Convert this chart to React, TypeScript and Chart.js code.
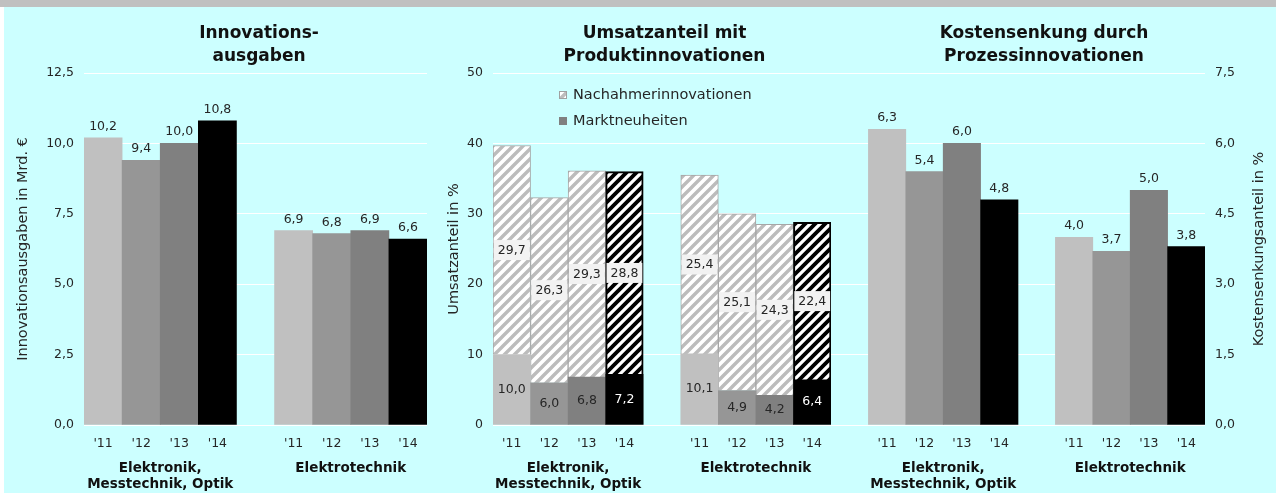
import React, { useEffect, useRef } from 'react';
import { Chart, registerables } from 'chart.js';

Chart.register(...registerables);

const FONT = '"DejaVu Sans", Verdana, sans-serif';

// ---------- data ----------
const years = ["'11", "'12", "'13", "'14"];
const groupElektronik = ['Elektronik,', 'Messtechnik, Optik'];
const groupElektrotechnik = ['Elektrotechnik'];

const titleAusgaben = ['Innovations-', 'ausgaben'];
const titleUmsatz = ['Umsatzanteil mit', 'Produktinnovationen'];
const titleKosten = ['Kostensenkung durch', 'Prozessinnovationen'];

const axisAusgaben = 'Innovationsausgaben in Mrd. €';
const axisUmsatz = 'Umsatzanteil in %';
const axisKosten = 'Kostensenkungsanteil in %';

const legendLabels = ['Nachahmerinnovationen', 'Marktneuheiten'];

const ausgabenEMO = [10.2, 9.4, 10.0, 10.8];
const ausgabenET = [6.9, 6.8, 6.9, 6.6];
const marktEMO = [10.0, 6.0, 6.8, 7.2];
const marktET = [10.1, 4.9, 4.2, 6.4];
const nachEMO = [29.7, 26.3, 29.3, 28.8];
const nachET = [25.4, 25.1, 24.3, 22.4];
const kostenEMO = [6.3, 5.4, 6.0, 4.8];
const kostenET = [4.0, 3.7, 5.0, 3.8];

const ticksAusgaben = [0, 2.5, 5, 7.5, 10, 12.5];
const ticksUmsatz = [0, 10, 20, 30, 40, 50];
const ticksKosten = [0, 1.5, 3, 4.5, 6, 7.5];

// ---------- styles ----------
const yearColors = ['#c0c0c0', '#969696', '#808080', '#000000'];
const TEXT = '#262626';
const fmt1 = (v: number) => v.toFixed(1).replace('.', ',');

const CH = 486; // canvas height (page y 7..493)
const AREA_TOP = 66;
const AREA_BOTTOM = 418;

function makeStripe(target: CanvasRenderingContext2D, color: string, lw: number): CanvasPattern | string {
  const S = 10;
  const tile = document.createElement('canvas');
  tile.width = S;
  tile.height = S;
  const g = tile.getContext('2d');
  if (!g) return color;
  g.fillStyle = '#ffffff';
  g.fillRect(0, 0, S, S);
  g.strokeStyle = color;
  g.lineWidth = lw;
  g.lineCap = 'square';
  g.beginPath();
  g.moveTo(-2, S + 2);
  g.lineTo(S + 2, -2);
  g.moveTo(-2, 2);
  g.lineTo(2, -2);
  g.moveTo(S - 2, S + 2);
  g.lineTo(S + 2, S - 2);
  g.stroke();
  return target.createPattern(tile, 'repeat') || color;
}

type Group = { lines: string[]; from: number; to: number };
type Decor = {
  title: string[];
  titleDx: number;
  axisTitle: string;
  axisX: number;
  groups: Group[];
  legend?: { light: CanvasPattern | string };
};

function decorPlugin(cfg: Decor) {
  return {
    id: 'decor',
    afterDraw(chart: any) {
      const { ctx, chartArea: ca } = chart;
      const xs = chart.scales.x;
      ctx.save();
      ctx.textAlign = 'center';
      ctx.textBaseline = 'alphabetic';
      ctx.fillStyle = '#111111';
      ctx.font = `bold 17px ${FONT}`;
      cfg.title.forEach((t, i) => ctx.fillText(t, ca.left + cfg.titleDx, 30.5 + 23 * i));
      ctx.font = `bold 13.5px ${FONT}`;
      cfg.groups.forEach((g) => {
        const cx = (xs.getPixelForValue(g.from) + xs.getPixelForValue(g.to)) / 2;
        g.lines.forEach((t, i) => ctx.fillText(t, cx, 464.7 + 16 * i));
      });
      if (cfg.legend) {
        const lx = ca.left + 66;
        const ly = ca.top + 18;
        ctx.fillStyle = cfg.legend.light;
        ctx.fillRect(lx, ly, 8, 8);
        ctx.strokeStyle = '#a0a0a0';
        ctx.lineWidth = 1;
        ctx.strokeRect(lx + 0.5, ly + 0.5, 7, 7);
        ctx.fillStyle = '#808080';
        ctx.fillRect(lx, ly + 26, 8, 8);
        ctx.fillStyle = TEXT;
        ctx.font = `14.5px ${FONT}`;
        ctx.textAlign = 'left';
        ctx.textBaseline = 'middle';
        ctx.fillText(legendLabels[0], lx + 14, ly + 4);
        ctx.fillText(legendLabels[1], lx + 14, ly + 30);
      }
      ctx.fillStyle = TEXT;
      ctx.font = `14.5px ${FONT}`;
      ctx.textAlign = 'center';
      ctx.textBaseline = 'alphabetic';
      ctx.translate(cfg.axisX, (ca.top + ca.bottom) / 2);
      ctx.rotate(-Math.PI / 2);
      ctx.fillText(cfg.axisTitle, 0, 0);
      ctx.restore();
    },
  };
}

const aboveLabels = {
  id: 'aboveLabels',
  afterDatasetsDraw(chart: any) {
    const { ctx } = chart;
    const ds = chart.data.datasets[0];
    const meta = chart.getDatasetMeta(0);
    ctx.save();
    ctx.fillStyle = TEXT;
    ctx.font = `12.5px ${FONT}`;
    ctx.textAlign = 'center';
    ctx.textBaseline = 'alphabetic';
    meta.data.forEach((el: any, i: number) => {
      const v = ds.data[i];
      if (v == null) return;
      ctx.fillText(fmt1(v), el.x, el.y - 8);
    });
    ctx.restore();
  },
};

const stackLabels = {
  id: 'stackLabels',
  afterDatasetsDraw(chart: any) {
    const { ctx } = chart;
    ctx.save();
    ctx.font = `12.5px ${FONT}`;
    ctx.textAlign = 'center';
    ctx.textBaseline = 'middle';
    const d0 = chart.data.datasets[0];
    chart.getDatasetMeta(0).data.forEach((el: any, i: number) => {
      const v = d0.data[i];
      if (v == null) return;
      const y = (el.y + el.base) / 2;
      ctx.fillStyle = i % 5 === 3 ? '#ffffff' : TEXT;
      ctx.fillText(fmt1(v), el.x, y);
    });
    const d1 = chart.data.datasets[1];
    chart.getDatasetMeta(1).data.forEach((el: any, i: number) => {
      const v = d1.data[i];
      if (v == null) return;
      const y = (el.y + el.base) / 2;
      const t = fmt1(v);
      const w = ctx.measureText(t).width + 8;
      ctx.fillStyle = '#f2f2f2';
      ctx.fillRect(el.x - w / 2, y - 10, w, 20);
      ctx.fillStyle = TEXT;
      ctx.fillText(t, el.x, y + 0.5);
    });
    ctx.restore();
  },
};

type PanelSpec = {
  W: number;
  areaLeft: number;
  areaRight: number;
  yPos: 'left' | 'right';
  ticks: number[];
  tickFmt: (v: number) => string;
  stacked: boolean;
};

function makeOptions(p: PanelSpec) {
  const yW = p.yPos === 'left' ? p.areaLeft : p.W - p.areaRight;
  return {
    responsive: false,
    animation: false,
    events: [],
    layout: {
      padding: {
        top: AREA_TOP,
        bottom: 0,
        left: p.yPos === 'left' ? 0 : p.areaLeft,
        right: p.yPos === 'left' ? p.W - p.areaRight : 0,
      },
    },
    plugins: {
      legend: { display: false },
      tooltip: { enabled: false },
      title: { display: false },
    },
    scales: {
      x: {
        stacked: p.stacked,
        offset: true,
        grid: { display: false, drawTicks: false },
        border: { display: false },
        ticks: {
          padding: 11,
          color: TEXT,
          font: { size: 12.5, family: FONT },
          maxRotation: 0,
          autoSkip: false,
        },
        afterFit: (s: any) => {
          s.height = CH - AREA_BOTTOM;
        },
      },
      y: {
        position: p.yPos,
        stacked: p.stacked,
        min: p.ticks[0],
        max: p.ticks[p.ticks.length - 1],
        grid: { color: '#ffffff', lineWidth: 1, drawTicks: false },
        border: { display: false },
        ticks: {
          padding: 10,
          color: TEXT,
          font: { size: 12.5, family: FONT },
          callback: (v: any) => p.tickFmt(Number(v)),
        },
        afterBuildTicks: (s: any) => {
          s.ticks = p.ticks.map((v) => ({ value: v }));
        },
        afterFit: (s: any) => {
          s.width = yW;
        },
      },
    },
  };
}

export default function App() {
  const leftRef = useRef<HTMLCanvasElement>(null);
  const midRef = useRef<HTMLCanvasElement>(null);
  const rightRef = useRef<HTMLCanvasElement>(null);

  useEffect(() => {
    Chart.defaults.font.family = FONT;
    const charts: Chart[] = [];
    const lc = leftRef.current;
    const mc = midRef.current;
    const rc = rightRef.current;
    if (!lc || !mc || !rc) return;

    charts.push(
      new Chart(lc, {
        type: 'bar',
        data: {
          labels: [...years, '', ...years],
          datasets: [
            {
              data: [...ausgabenEMO, null, ...ausgabenET],
              backgroundColor: [...yearColors, 'transparent', ...yearColors],
              borderWidth: 0,
              barPercentage: 1,
              categoryPercentage: 1,
            },
          ],
        },
        options: makeOptions({
          W: 426,
          areaLeft: 80,
          areaRight: 423,
          yPos: 'left',
          ticks: ticksAusgaben,
          tickFmt: fmt1,
          stacked: false,
        }) as any,
        plugins: [
          aboveLabels,
          decorPlugin({
            title: titleAusgaben,
            titleDx: 175,
            axisTitle: axisAusgaben,
            axisX: 23,
            groups: [
              { lines: groupElektronik, from: 0, to: 3 },
              { lines: groupElektrotechnik, from: 5, to: 8 },
            ],
          }),
        ],
      })
    );

    const mctx = mc.getContext('2d') as CanvasRenderingContext2D;
    const pLight = makeStripe(mctx, '#bcbcbc', 3.4);
    const pDark = makeStripe(mctx, '#000000', 3.8);
    const nachFill = [pLight, pLight, pLight, pDark];
    const nachBorder = ['#a6a6a6', '#a6a6a6', '#a6a6a6', '#000000'];
    const nachBw = [1, 1, 1, 2];
    charts.push(
      new Chart(mc, {
        type: 'bar',
        data: {
          labels: [...years, '', ...years],
          datasets: [
            {
              label: legendLabels[1],
              data: [...marktEMO, null, ...marktET],
              backgroundColor: [...yearColors, 'transparent', ...yearColors],
              borderWidth: 0,
              barPercentage: 1,
              categoryPercentage: 1,
            },
            {
              label: legendLabels[0],
              data: [...nachEMO, null, ...nachET],
              backgroundColor: [...nachFill, 'transparent', ...nachFill] as any,
              borderColor: [...nachBorder, 'transparent', ...nachBorder],
              borderWidth: [...nachBw, 0, ...nachBw],
              barPercentage: 1,
              categoryPercentage: 1,
            },
          ],
        },
        options: makeOptions({
          W: 414,
          areaLeft: 61,
          areaRight: 399,
          yPos: 'left',
          ticks: ticksUmsatz,
          tickFmt: (v) => String(Math.round(v)),
          stacked: true,
        }) as any,
        plugins: [
          stackLabels,
          decorPlugin({
            title: titleUmsatz,
            titleDx: 171.5,
            axisTitle: axisUmsatz,
            axisX: 26,
            groups: [
              { lines: groupElektronik, from: 0, to: 3 },
              { lines: groupElektrotechnik, from: 5, to: 8 },
            ],
            legend: { light: pLight },
          }),
        ],
      })
    );

    charts.push(
      new Chart(rc, {
        type: 'bar',
        data: {
          labels: ['', ...years, '', ...years],
          datasets: [
            {
              data: [null, ...kostenEMO, null, ...kostenET],
              backgroundColor: ['transparent', ...yearColors, 'transparent', ...yearColors],
              borderWidth: 0,
              barPercentage: 1,
              categoryPercentage: 1,
            },
          ],
        },
        options: makeOptions({
          W: 450,
          areaLeft: 5,
          areaRight: 379,
          yPos: 'right',
          ticks: ticksKosten,
          tickFmt: fmt1,
          stacked: false,
        }) as any,
        plugins: [
          aboveLabels,
          decorPlugin({
            title: titleKosten,
            titleDx: 213,
            axisTitle: axisKosten,
            axisX: 437,
            groups: [
              { lines: groupElektronik, from: 1, to: 4 },
              { lines: groupElektrotechnik, from: 6, to: 9 },
            ],
          }),
        ],
      })
    );

    return () => charts.forEach((c) => c.destroy());
  }, []);

  const abs = (l: number, t: number, w: number, h: number, extra: any = {}) => ({
    position: 'absolute' as const,
    left: l,
    top: t,
    width: w,
    height: h,
    ...extra,
  });

  return (
    <div style={abs(0, 0, 1276, 493, { background: '#ffffff', overflow: 'hidden' })}>
      <div style={abs(0, 0, 1276, 7, { background: '#c0c0c0' })} />
      <div style={abs(4, 7, 1272, 486, { background: '#ccffff' })} />
      <canvas ref={midRef} width={414} height={CH} style={abs(432, 7, 414, CH, { display: 'block' })} />
      <canvas ref={rightRef} width={450} height={CH} style={abs(826, 7, 450, CH, { display: 'block' })} />
      <canvas ref={leftRef} width={426} height={CH} style={abs(4, 7, 426, CH, { display: 'block' })} />
    </div>
  );
}
